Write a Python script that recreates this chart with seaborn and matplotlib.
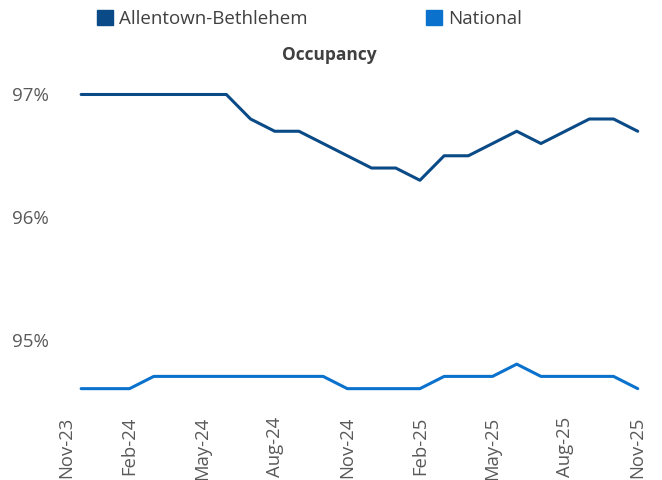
import matplotlib
matplotlib.use("Agg")
import matplotlib.pyplot as plt
from matplotlib.patches import Patch
from matplotlib.transforms import ScaledTranslation
import seaborn as sns
import pandas as pd

tick_labels = ["Nov-23", "Feb-24", "May-24", "Aug-24", "Nov-24", "Feb-25", "May-25", "Aug-25", "Nov-25"]
months = ["Nov-23", "Dec-23", "Jan-24", "Feb-24", "Mar-24", "Apr-24", "May-24", "Jun-24", "Jul-24",
          "Aug-24", "Sep-24", "Oct-24", "Nov-24", "Dec-24", "Jan-25", "Feb-25", "Mar-25", "Apr-25",
          "May-25", "Jun-25", "Jul-25", "Aug-25", "Sep-25", "Oct-25", "Nov-25"]
data_months = months[1:]
allentown = [97.0, 97.0, 97.0, 97.0, 97.0, 97.0, 97.0, 96.8, 96.7, 96.7, 96.6, 96.5,
             96.4, 96.4, 96.3, 96.5, 96.5, 96.6, 96.7, 96.6, 96.7, 96.8, 96.8, 96.7]
national = [94.6, 94.6, 94.6, 94.7, 94.7, 94.7, 94.7, 94.7, 94.7, 94.7, 94.7, 94.6,
            94.6, 94.6, 94.6, 94.7, 94.7, 94.7, 94.8, 94.7, 94.7, 94.7, 94.7, 94.6]
series_names = ["Allentown-Bethlehem", "National"]
colors = ["#0a4a86", "#0a72cc"]

sns.set_style("white")
plt.rcParams["font.family"] = ["Open Sans", "DejaVu Sans"]

pos = {m: i for i, m in enumerate(months)}
df = pd.DataFrame({
    "x": [pos[m] for m in data_months] * 2,
    "value": allentown + national,
    "series": [series_names[0]] * len(allentown) + [series_names[1]] * len(national),
})

fig = plt.figure(figsize=(6.62, 4.80), dpi=100)
ax = fig.add_axes([0.086, 0.152, 0.881, 0.715])
sns.lineplot(data=df, x="x", y="value", hue="series", palette=colors, linewidth=2.2,
             ax=ax, legend=False)

ax.set_xlim(0, 24.1)
ax.set_ylim(94.45, 97.25)
ax.set_xticks([pos[m] for m in tick_labels])
ax.set_xticklabels(tick_labels, rotation=90, color="#595959", fontsize=13.3)
ax.set_xticks(range(len(months)), minor=True)
ax.set_yticks([95, 96, 97])
ax.set_yticklabels(["95%", "96%", "97%"], color="#595959", fontsize=13.5)
ax.tick_params(axis="x", which="both", length=3, color="#e4e4e4", pad=4)
ax.tick_params(axis="y", length=4, color="#e4e4e4", pad=2)
ax.set_xlabel("")
ax.set_ylabel("")
for s in ax.spines.values():
    s.set_visible(False)

# first category label is nudged inward, as in the reference
first = ax.get_xticklabels()[0]
first.set_transform(first.get_transform() + ScaledTranslation(0.09, 0, fig.dpi_scale_trans))

fig.text(0.498, 0.885, "Occupancy", ha="center", va="center", fontsize=12.5,
         fontweight="bold", color="#404040")

handles = [Patch(facecolor=c, edgecolor=c) for c in colors]
fig.legend(handles, series_names, loc="upper left", bbox_to_anchor=(0.121, 1.015), ncol=2,
           frameon=False, fontsize=13.5, handlelength=0.85, handleheight=0.85,
           handletextpad=0.3, columnspacing=6.35, labelcolor="#404040")

fig.savefig("out.png", dpi=100)
